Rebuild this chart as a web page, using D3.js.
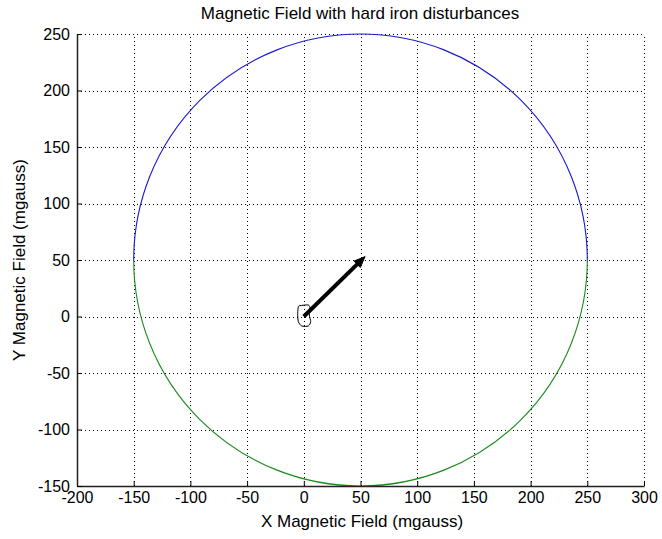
<!DOCTYPE html>
<html>
<head>
<meta charset="utf-8">
<script src="https://cdn.jsdelivr.net/npm/d3@7"></script>
<style>
  html, body { margin: 0; padding: 0; background: #fff; }
  text { font-family: "Liberation Sans", Arial, sans-serif; fill: #000; }
</style>
</head>
<body>
<svg id="chart" width="662" height="539"></svg>
<script>
// Axis ticks
const xTicks = [-200, -150, -100, -50, 0, 50, 100, 150, 200, 250, 300];
const yTicks = [-150, -100, -50, 0, 50, 100, 150, 200, 250];

// Measured field circle (centre and radius, mgauss)
const circleCenter = [50, 50];
const circleRadius = 200;

// Heading vector from origin
const arrowStart = [0, 0];
const arrowEnd = [54, 53];

// Raw small loop around origin
const loopPoints = [
  [-3.4, 9.6], [4.0, 10.2], [5.5, 7.2], [4.9, 1.3], [6.1, -4.6],
  [4.0, -8.4], [-1.9, -8.4], [-4.8, -4.6], [-5.4, 2.8], [-4.8, 8.7]
];

const svg = d3.select("#chart");
const plot = { left: 77, right: 644, top: 34, bottom: 486 };

const x = d3.scaleLinear().domain([-200, 300]).range([plot.left, plot.right]);
const y = d3.scaleLinear().domain([-150, 250]).range([plot.bottom, plot.top]);

// Dotted grid
const grid = svg.append("g").attr("stroke", "#000").attr("stroke-width", 1)
  .attr("stroke-dasharray", "1,3");
grid.selectAll(".gx").data(xTicks.filter(d => d !== -200)).join("line")
  .attr("x1", d => Math.round(x(d)) + 0.5).attr("x2", d => Math.round(x(d)) + 0.5)
  .attr("y1", plot.bottom).attr("y2", plot.top);
grid.selectAll(".gy").data(yTicks.filter(d => d !== -150)).join("line")
  .attr("y1", d => Math.round(y(d)) + 0.5).attr("y2", d => Math.round(y(d)) + 0.5)
  .attr("x1", plot.left).attr("x2", plot.right);

// Circle: upper half blue, lower half green
const rx = x(circleCenter[0] + circleRadius) - x(circleCenter[0]);
const ry = y(circleCenter[1]) - y(circleCenter[1] + circleRadius);
const left = [x(circleCenter[0] - circleRadius), y(circleCenter[1])];
const right = [x(circleCenter[0] + circleRadius), y(circleCenter[1])];
svg.append("path")
  .attr("d", `M${left[0]},${left[1]} A${rx},${ry} 0 0 1 ${right[0]},${right[1]}`)
  .attr("fill", "none").attr("stroke", "#1a1acc").attr("stroke-width", 1.1);
svg.append("path")
  .attr("d", `M${left[0]},${left[1]} A${rx},${ry} 0 0 0 ${right[0]},${right[1]}`)
  .attr("fill", "none").attr("stroke", "#1a8a1a").attr("stroke-width", 1.1);

// Small loop
svg.append("path")
  .datum(loopPoints)
  .attr("d", d3.line().x(d => x(d[0])).y(d => y(d[1])).curve(d3.curveCardinalClosed.tension(0.3)))
  .attr("fill", "none").attr("stroke", "#000").attr("stroke-width", 1);

// Arrow: shaft plus head, head tip at the vector end
const p0 = [x(arrowStart[0]), y(arrowStart[1])];
const p1 = [x(arrowEnd[0]), y(arrowEnd[1])];
const len = Math.hypot(p1[0] - p0[0], p1[1] - p0[1]);
const ux = (p1[0] - p0[0]) / len, uy = (p1[1] - p0[1]) / len;
const headLen = 11, headHalf = 4.5;
const base = [p1[0] - ux * headLen, p1[1] - uy * headLen];
svg.append("line")
  .attr("x1", p0[0]).attr("y1", p0[1])
  .attr("x2", base[0] + ux * 2).attr("y2", base[1] + uy * 2)
  .attr("stroke", "#000").attr("stroke-width", 4);
svg.append("path")
  .attr("d", `M${p1[0]},${p1[1]} L${base[0] - uy * headHalf},${base[1] + ux * headHalf} L${base[0] + uy * headHalf},${base[1] - ux * headHalf} Z`)
  .attr("fill", "#000").attr("stroke", "#000").attr("stroke-width", 1);

// Axes (ticks inward, hyphen minus sign)
const fmt = d => String(d);
const xAxis = d3.axisBottom(x).tickValues(xTicks).tickFormat(fmt).tickSizeInner(-5).tickSizeOuter(0).tickPadding(6);
const yAxis = d3.axisLeft(y).tickValues(yTicks).tickFormat(fmt).tickSizeInner(-5).tickSizeOuter(0).tickPadding(7);

const gx = svg.append("g").attr("transform", `translate(0,${plot.bottom})`).call(xAxis);
const gy = svg.append("g").attr("transform", `translate(${plot.left},0)`).call(yAxis);
[gx, gy].forEach(g => {
  g.select(".domain").attr("stroke", "#222").attr("stroke-width", 1.5);
  g.selectAll(".tick line").attr("stroke", "#000");
  g.selectAll("text").attr("font-size", 16).attr("font-family", "Liberation Sans, Arial, sans-serif")
    .attr("fill", "#000");
});
gx.selectAll(".tick text").attr("dy", "0.71em");

// Title and axis labels
svg.append("text").attr("x", 360).attr("y", 19)
  .attr("text-anchor", "middle").attr("font-size", 17)
  .text("Magnetic Field with hard iron disturbances");
svg.append("text").attr("x", 362).attr("y", 527)
  .attr("text-anchor", "middle").attr("font-size", 17)
  .text("X Magnetic Field (mgauss)");
svg.append("text")
  .attr("transform", `translate(25,${(plot.top + plot.bottom) / 2}) rotate(-90)`)
  .attr("text-anchor", "middle").attr("font-size", 17)
  .text("Y Magnetic Field (mgauss)");
</script>
</body>
</html>
